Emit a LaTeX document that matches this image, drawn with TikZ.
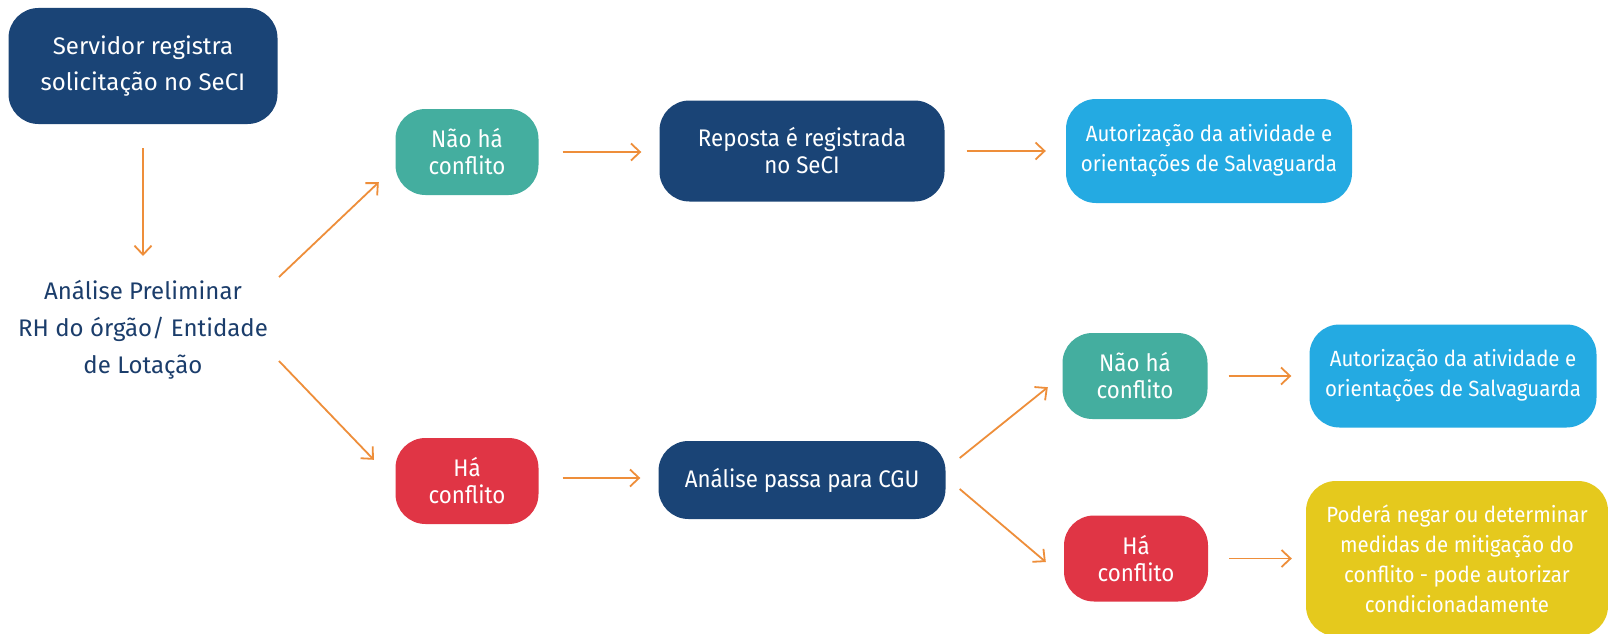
\documentclass[tikz,border=0pt]{standalone}
\usepackage{fontspec}
\setmainfont{Fira Sans}
\newfontfamily\cardfont[FakeStretch=0.93]{Fira Sans}
\usepackage{xcolor}
\usepackage{tikz}
\usetikzlibrary{arrows.meta}
\definecolor{navybox}{HTML}{1A4476}
\definecolor{tealbox}{HTML}{44AE9F}
\definecolor{redbox}{HTML}{E03545}
\definecolor{skybox}{HTML}{24AAE2}
\definecolor{goldbox}{HTML}{E5C91D}
\definecolor{flowline}{HTML}{EE8E3A}
\definecolor{navytext}{HTML}{1B3D6B}
\tikzset{
  card/.style={rounded corners=30pt, inner sep=0pt, align=center, text=white, font=\cardfont\fontsize{24}{27}\selectfont},
  darkcard/.style={card, fill=navybox},
  okcard/.style={card, fill=tealbox, minimum width=143pt, minimum height=86pt},
  badcard/.style={card, fill=redbox, minimum width=143pt, minimum height=86pt},
  infocard/.style={card, fill=skybox, font=\cardfont\fontsize{22}{30}\selectfont},
  warncard/.style={card, fill=goldbox, font=\cardfont\fontsize{22}{30}\selectfont},
  lab/.style={text=navytext, align=center, inner sep=0pt, font=\fontsize{24}{37}\selectfont},
  flow/.style={draw=flowline, line width=1.8pt, -{Straight Barb[length=9pt,width=17pt]}},
}
\begin{document}
\begin{tikzpicture}[x=1pt,y=-1pt]
  \useasboundingbox[fill=white] (0,0) rectangle (1608,634);
  % first column
  \node[darkcard, minimum width=269pt, minimum height=116pt, font=\fontsize{24}{36}\selectfont] (serv) at (143,66) {Servidor registra\\solicitação no SeCI};
  \node[lab] (anal) at (143,330) {Análise Preliminar\\RH do órgão/ Entidade\\de Lotação};
  % upper branch
  \node[okcard] (nao1) at (467,152) {Não há\\conflito};
  \node[darkcard, minimum width=285pt, minimum height=101pt] (rep) at (802,151) {Reposta é registrada\\no SeCI};
  \node[infocard, minimum width=286pt, minimum height=104pt] (aut1) at (1209,151) {Autorização da atividade e\\orientações de Salvaguarda};
  % lower branch
  \node[badcard] (ha1) at (467,481) {Há\\conflito};
  \node[darkcard, minimum width=287pt, minimum height=78pt] (passa) at (802,480) {Análise passa para CGU};
  \node[okcard, minimum width=145pt] (nao2) at (1135,376) {Não há\\conflito};
  \node[infocard, minimum width=287pt, minimum height=103pt] (aut2) at (1453,376) {Autorização da atividade e\\orientações de Salvaguarda};
  \node[badcard, minimum width=144pt] (ha2) at (1136,558.5) {Há\\conflito};
  \node[warncard, minimum width=302pt, minimum height=155pt] (neg) at (1457,558.5) {Poderá negar ou determinar\\medidas de mitigação do\\conflito - pode autorizar\\condicionadamente};
  % connectors
  \draw[flow] ([shift={(0,24)}]serv.south) -- ([shift={(0,-74)}]anal.center);
  \draw[flow] ([shift={(136,-53)}]anal.center) -- ([shift={(-16.5,-13)}]nao1.south west);
  \draw[flow] ([shift={(136,31)}]anal.center) -- ([shift={(-21.5,22)}]ha1.north west);
  \draw[flow] ([shift={(24,0)}]nao1.east) -- ([shift={(-18,0)}]nao1.east -| rep.west);
  \draw[flow] ([shift={(22,0)}]rep.east) -- ([shift={(-20,0)}]aut1.west);
  \draw[flow] ([shift={(24,-3)}]ha1.east) -- ([shift={(-18,-3)}]ha1.east -| passa.west);
  \draw[flow] ([shift={(14,-22)}]passa.east) -- ([shift={(-14.5,-32)}]nao2.south west);
  \draw[flow] ([shift={(14,9)}]passa.east) -- ([shift={(-18,3.5)}]ha2.west);
  \draw[flow] ([shift={(21,0)}]nao2.east) -- ([shift={(-18,0)}]aut2.west);
  \draw[flow] ([shift={(21,0)}]ha2.east) -- ([shift={(-14,0)}]neg.west);
\end{tikzpicture}
\end{document}
